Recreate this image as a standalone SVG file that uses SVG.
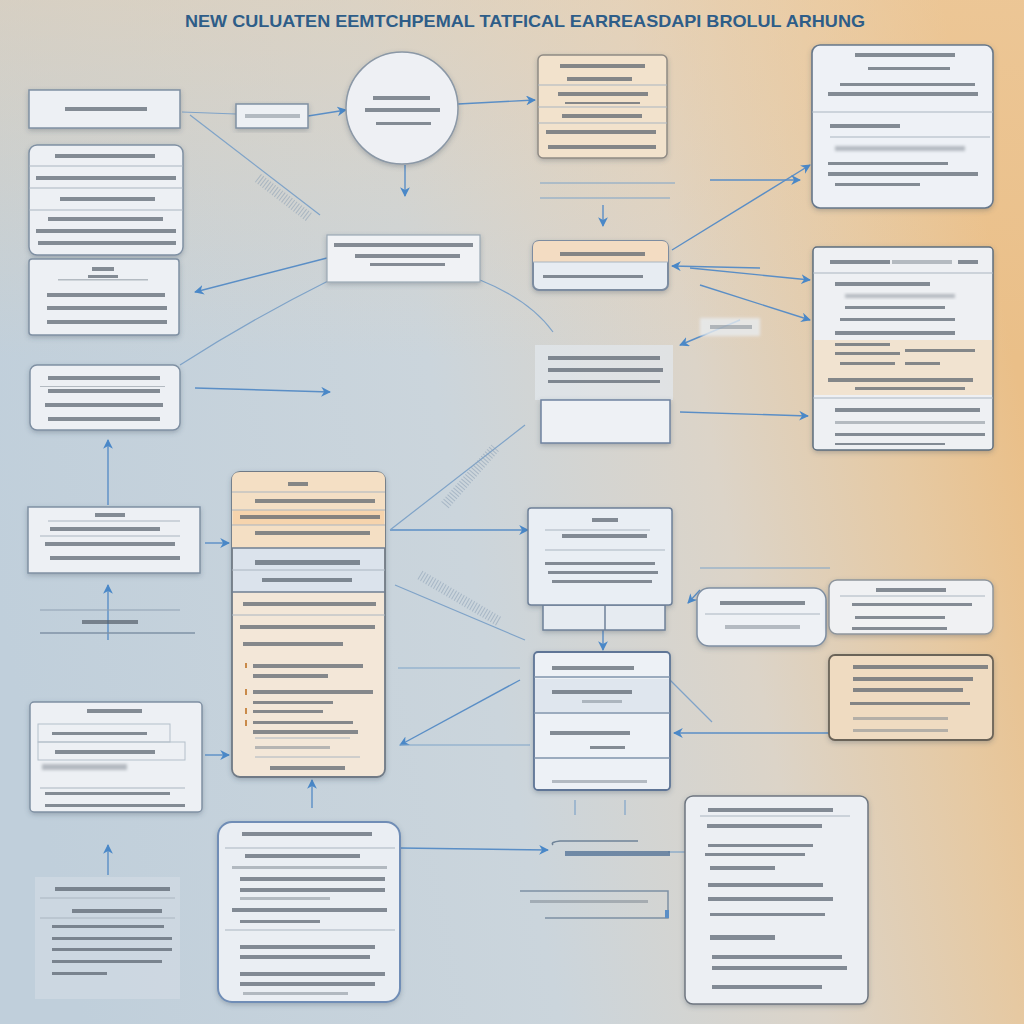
<svg xmlns="http://www.w3.org/2000/svg" width="1024" height="1024" viewBox="0 0 1024 1024">
<defs>
<linearGradient id="bg" x1="0" y1="0.6" x2="1" y2="0.4">
<stop offset="0" stop-color="#c0cfdb"/>
<stop offset="0.45" stop-color="#cbd5dc"/>
<stop offset="0.7" stop-color="#dcd4c8"/>
<stop offset="0.88" stop-color="#e6c9a2"/>
<stop offset="1" stop-color="#eabf88"/>
</linearGradient>
<linearGradient id="bg2" x1="0" y1="0" x2="0" y2="1">
<stop offset="0" stop-color="#efcfa6" stop-opacity="0.45"/>
<stop offset="0.35" stop-color="#efcfa6" stop-opacity="0"/>
</linearGradient>
<filter id="sh" x="-10%" y="-10%" width="120%" height="130%">
<feDropShadow dx="0" dy="2" stdDeviation="2.5" flood-color="#3a4a5c" flood-opacity="0.3"/>
</filter>
<filter id="blur" x="-20%" y="-50%" width="140%" height="200%">
<feGaussianBlur stdDeviation="1.5"/>
</filter>
<marker id="ah" viewBox="0 0 10 10" refX="9" refY="5" markerWidth="7" markerHeight="7" orient="auto-start-reverse">
<path d="M0,0 L10,5 L0,10 L3,5 Z" fill="#4a88c8"/>
</marker>
<style>
.box{fill:#edf0f4;stroke:#7f90a3;stroke-width:1.5}
.t{fill:#56606b;opacity:0.7}
.tl{fill:#7a838d;opacity:0.5}
.sep{stroke:#aab5c0;stroke-width:1}
.c{fill:none;stroke:#5a8ec6;stroke-width:1.4;marker-end:url(#ah)}
.cn{fill:none;stroke:#7fa3c8;stroke-width:1.2}
.rib{fill:none;stroke:#8a9fb5;stroke-width:10;stroke-dasharray:1 2;opacity:0.55}
.title{font-family:"Liberation Sans",Arial,sans-serif;font-weight:bold;font-size:17px;fill:#2e5d88}
</style>
</defs>
<rect width="1024" height="1024" fill="url(#bg)"/>
<rect width="1024" height="1024" fill="url(#bg2)"/>

<text class="title" x="185" y="27" textLength="680" lengthAdjust="spacingAndGlyphs">NEW CULUATEN EEMTCHPEMAL TATFICAL EARREASDAPI BROLUL ARHUNG</text>

<g id="connectors">
<path class="cn" d="M182,112 L236,114"/>
<path class="cn" d="M190,115 L320,215"/>
<path class="rib" d="M258,178 L310,218"/>
<path class="c" d="M308,116 L346,110"/>
<path class="c" d="M458,104 L535,100"/>
<path class="c" d="M405,165 L405,196"/>
<path class="cn" d="M540,183 L675,183"/>
<path class="cn" d="M540,198 L670,198"/>
<path class="c" d="M603,205 L603,226"/>
<path class="c" d="M672,250 L810,165"/>
<path class="c" d="M710,180 L800,180"/>
<path class="c" d="M760,268 L672,266"/>
<path class="c" d="M690,268 L810,280"/>
<path class="c" d="M700,285 L810,320"/>
<path class="c" d="M327,258 L195,292"/>
<path class="cn" d="M330,280 Q250,320 180,365"/>
<path class="cn" d="M480,280 Q530,300 553,332"/>
<path class="c" d="M195,388 L330,392"/>
<path class="c" d="M680,412 L808,416"/>
<path class="c" d="M740,320 L680,345"/>
<path class="c" d="M108,505 L108,440"/>
<path class="c" d="M205,543 L229,543"/>
<path class="c" d="M390,530 L528,530"/>
<path class="cn" d="M390,530 L525,425"/>
<path class="rib" d="M445,505 L495,448"/>
<path class="cn" d="M395,585 L525,640"/>
<path class="rib" d="M420,575 L500,622"/>
<path class="cn" d="M398,668 L520,668"/>
<path class="c" d="M520,680 L400,745"/>
<path class="cn" d="M400,745 L530,745"/>
<path class="c" d="M603,630 L603,650"/>
<path class="c" d="M700,590 L688,603"/>
<path class="cn" d="M700,568 L830,568"/>
<path class="c" d="M829,733 L674,733"/>
<path class="cn" d="M670,680 L712,722"/>
<path class="c" d="M205,755 L229,755"/>
<path class="c" d="M108,875 L108,845"/>
<path class="c" d="M108,640 L108,585"/>
<path class="c" d="M312,808 L312,780"/>
<path class="c" d="M400,848 L548,850"/>
<path class="cn" d="M575,800 L575,815"/>
<path class="cn" d="M625,800 L625,815"/>
<path class="cn" d="M668,852 L685,852"/>
</g>

<g id="n1" filter="url(#sh)">
<rect class="box" x="29" y="90" width="151" height="38"/>
<rect class="t" x="65" y="107" width="82" height="4"/>
</g>

<g id="n2" filter="url(#sh)">
<rect class="box" x="29" y="145" width="154" height="110" rx="8"/>
<line class="sep" x1="29" y1="166" x2="183" y2="166"/>
<line class="sep" x1="29" y1="188" x2="183" y2="188"/>
<line class="sep" x1="29" y1="210" x2="183" y2="210"/>
<rect class="t" x="55" y="154" width="100" height="4"/>
<rect class="t" x="36" y="176" width="140" height="4"/>
<rect class="t" x="60" y="197" width="95" height="4"/>
<rect class="t" x="48" y="217" width="115" height="4"/>
<rect class="t" x="36" y="229" width="140" height="4"/>
<rect class="t" x="38" y="241" width="138" height="4"/>
</g>

<g id="n3" filter="url(#sh)">
<rect class="box" x="29" y="259" width="150" height="76" rx="3"/>
<rect class="t" x="92" y="267" width="22" height="4"/>
<rect class="tl" x="58" y="279" width="90" height="1.5"/>
<rect class="t" x="88" y="275" width="30" height="3"/>
<rect class="t" x="47" y="293" width="118" height="4"/>
<rect class="t" x="47" y="306" width="120" height="4"/>
<rect class="t" x="47" y="320" width="120" height="4"/>
</g>

<g id="n4" filter="url(#sh)">
<rect class="box" x="30" y="365" width="150" height="65" rx="7"/>
<rect class="t" x="48" y="376" width="112" height="4"/>
<rect class="tl" x="40" y="386" width="125" height="1"/>
<rect class="t" x="48" y="389" width="112" height="4"/>
<rect class="t" x="45" y="403" width="118" height="4"/>
<rect class="t" x="48" y="417" width="112" height="4"/>
</g>

<g id="n5" filter="url(#sh)">
<rect class="box" x="28" y="507" width="172" height="66"/>
<rect class="t" x="95" y="513" width="30" height="4"/>
<line class="sep" x1="48" y1="521" x2="180" y2="521"/>
<rect class="t" x="50" y="527" width="110" height="4"/>
<line class="sep" x1="40" y1="536" x2="180" y2="536"/>
<rect class="t" x="45" y="542" width="130" height="4"/>
<rect class="t" x="50" y="556" width="130" height="4"/>
</g>

<g id="n6">
<line class="sep" x1="40" y1="610" x2="180" y2="610" style="stroke:#8fa0b2"/>
<line class="sep" x1="40" y1="633" x2="195" y2="633" style="stroke:#7f92a6;stroke-width:1.5"/>
<rect class="t" x="82" y="620" width="56" height="4"/>
</g>

<g id="n7" filter="url(#sh)">
<rect class="box" x="30" y="702" width="172" height="110" rx="4"/>
<rect class="t" x="87" y="709" width="55" height="4"/>
<rect x="38" y="724" width="132" height="18" fill="none" stroke="#b4bfca"/>
<rect x="38" y="742" width="147" height="18" fill="none" stroke="#b4bfca"/>
<rect class="t" x="52" y="732" width="95" height="3"/>
<rect class="t" x="55" y="750" width="100" height="4"/>
<rect class="tl" x="42" y="764" width="85" height="6" filter="url(#blur)"/>
<line class="sep" x1="40" y1="788" x2="185" y2="788"/>
<rect class="t" x="45" y="792" width="125" height="3"/>
<rect class="t" x="45" y="804" width="140" height="3"/>
</g>

<g id="n8">
<rect x="35" y="877" width="145" height="122" fill="#d3dce4" opacity="0.6"/>
<rect class="t" x="55" y="887" width="115" height="4"/>
<line class="sep" x1="40" y1="898" x2="175" y2="898"/>
<rect class="t" x="72" y="909" width="90" height="4"/>
<line class="sep" x1="40" y1="918" x2="175" y2="918"/>
<rect class="t" x="52" y="925" width="112" height="3"/>
<rect class="t" x="52" y="937" width="120" height="3"/>
<rect class="t" x="52" y="948" width="120" height="3"/>
<rect class="t" x="52" y="960" width="110" height="3"/>
<rect class="t" x="52" y="972" width="55" height="3"/>
</g>

<g id="n9" filter="url(#sh)">
<rect class="box" x="236" y="104" width="72" height="24"/>
<rect class="tl" x="245" y="114" width="55" height="4"/>
</g>

<g id="n10" filter="url(#sh)">
<circle cx="402" cy="108" r="56" fill="#eef0f4" stroke="#8b98a6" stroke-width="1.5"/>
<rect class="t" x="373" y="96" width="57" height="4"/>
<rect class="t" x="365" y="108" width="75" height="4"/>
<rect class="t" x="376" y="122" width="55" height="3"/>
</g>

<g id="n11" filter="url(#sh)">
<rect x="538" y="55" width="129" height="103" rx="5" fill="#f2e2cc" stroke="#8f8a84" stroke-width="1.5"/>
<line class="sep" x1="538" y1="85" x2="667" y2="85"/>
<line class="sep" x1="538" y1="107" x2="667" y2="107"/>
<line class="sep" x1="538" y1="123" x2="667" y2="123"/>
<rect class="t" x="560" y="64" width="85" height="4"/>
<rect class="t" x="567" y="77" width="65" height="4"/>
<rect class="t" x="558" y="92" width="90" height="4"/>
<rect class="t" x="565" y="102" width="75" height="2"/>
<rect class="t" x="562" y="114" width="80" height="4"/>
<rect class="t" x="546" y="130" width="110" height="4"/>
<rect class="t" x="548" y="145" width="108" height="4"/>
</g>

<g id="n12" filter="url(#sh)">
<rect x="812" y="45" width="181" height="163" rx="8" fill="#eef1f6" stroke="#66778a" stroke-width="1.6"/>
<line class="sep" x1="812" y1="112" x2="993" y2="112"/>
<line class="sep" x1="830" y1="137" x2="990" y2="137"/>
<rect class="t" x="855" y="53" width="100" height="4"/>
<rect class="t" x="868" y="67" width="82" height="3"/>
<rect class="t" x="840" y="83" width="135" height="3"/>
<rect class="t" x="828" y="92" width="150" height="4"/>
<rect class="t" x="830" y="124" width="70" height="4"/>
<rect class="tl" x="835" y="146" width="130" height="5" filter="url(#blur)"/>
<rect class="t" x="828" y="162" width="120" height="3"/>
<rect class="t" x="828" y="172" width="150" height="4"/>
<rect class="t" x="835" y="183" width="85" height="3"/>
</g>

<g id="n13" filter="url(#sh)">
<rect x="327" y="235" width="153" height="47" fill="#f0f2f5" stroke="#9aa8b5" stroke-width="1.2"/>
<rect class="t" x="334" y="243" width="139" height="4"/>
<rect class="t" x="355" y="254" width="105" height="4"/>
<rect class="t" x="370" y="263" width="75" height="3"/>
</g>

<g id="n14" filter="url(#sh)">
<rect x="533" y="241" width="135" height="49" rx="6" fill="#e7ecf2" stroke="#7d8ca0" stroke-width="2"/>
<path d="M539,241 H662 Q668,241 668,247 V262 H533 V247 Q533,241 539,241 Z" fill="#f3dcc2"/>
<line class="sep" x1="533" y1="262" x2="668" y2="262"/>
<rect class="t" x="560" y="252" width="85" height="4"/>
<rect class="t" x="543" y="275" width="100" height="3"/>
</g>

<g id="n15" filter="url(#sh)">
<rect x="813" y="247" width="180" height="203" rx="4" fill="#eef0f3" stroke="#5e6d7d" stroke-width="1.5"/>
<rect x="814" y="340" width="178" height="55" fill="#f1e3d0"/>
<line class="sep" x1="813" y1="273" x2="993" y2="273"/>
<line class="sep" x1="813" y1="398" x2="993" y2="398"/>
<rect class="t" x="830" y="260" width="60" height="4"/>
<rect class="tl" x="892" y="260" width="60" height="4"/>
<rect class="t" x="958" y="260" width="20" height="4"/>
<rect class="t" x="835" y="282" width="95" height="4"/>
<rect class="tl" x="845" y="294" width="110" height="4" filter="url(#blur)"/>
<rect class="t" x="845" y="306" width="100" height="3"/>
<rect class="t" x="840" y="318" width="115" height="3"/>
<rect class="t" x="835" y="331" width="120" height="4"/>
<rect class="t" x="835" y="343" width="55" height="3"/>
<rect class="t" x="835" y="352" width="65" height="3"/>
<rect class="t" x="905" y="349" width="70" height="3"/>
<rect class="t" x="840" y="362" width="55" height="3"/>
<rect class="t" x="905" y="362" width="35" height="3"/>
<rect class="t" x="828" y="378" width="145" height="4"/>
<rect class="t" x="855" y="387" width="110" height="3"/>
<rect class="t" x="835" y="408" width="145" height="4"/>
<rect class="tl" x="835" y="421" width="150" height="3"/>
<rect class="t" x="835" y="433" width="150" height="3"/>
<rect class="t" x="835" y="443" width="110" height="2"/>
</g>

<g id="n16">
<rect x="535" y="345" width="138" height="55" fill="#e2e8ee" opacity="0.7"/>
<rect class="t" x="548" y="356" width="112" height="4"/>
<rect class="t" x="548" y="368" width="115" height="4"/>
<rect class="t" x="548" y="380" width="112" height="3"/>
<rect x="541" y="400" width="129" height="43" fill="#eef1f5" stroke="#6f83a0" stroke-width="1.5" filter="url(#sh)"/>
</g>

<g id="n17">
<rect x="700" y="318" width="60" height="18" fill="#e8ecef" opacity="0.8" filter="url(#blur)"/>
<rect class="tl" x="710" y="325" width="42" height="4"/>
</g>

<g id="n18" filter="url(#sh)">
<rect x="232" y="472" width="153" height="305" rx="8" fill="#f3e7d8" stroke="#6f7a86" stroke-width="1.8"/>
<path d="M240,472 H377 Q385,472 385,480 V548 H232 V480 Q232,472 240,472 Z" fill="#f4dfc4"/>
<rect x="233" y="510" width="151" height="15" fill="#f6d4ad"/>
<rect x="233" y="548" width="151" height="44" fill="#dbe3ec"/>
<line x1="232" y1="548" x2="385" y2="548" stroke="#6f7f93" stroke-width="1.5"/>
<line x1="232" y1="592" x2="385" y2="592" stroke="#6f7f93" stroke-width="1.5"/>
<line class="sep" x1="232" y1="492" x2="385" y2="492"/>
<line class="sep" x1="232" y1="510" x2="385" y2="510"/>
<line class="sep" x1="232" y1="525" x2="385" y2="525"/>
<line class="sep" x1="232" y1="570" x2="385" y2="570"/>
<line class="sep" x1="232" y1="615" x2="385" y2="615"/>
<line class="sep" x1="255" y1="738" x2="350" y2="738"/>
<line class="sep" x1="255" y1="757" x2="360" y2="757"/>
<rect class="t" x="288" y="482" width="20" height="4"/>
<rect class="t" x="255" y="499" width="120" height="4"/>
<rect class="t" x="240" y="515" width="140" height="4"/>
<rect class="t" x="255" y="531" width="115" height="4"/>
<rect class="t" x="255" y="560" width="105" height="5"/>
<rect class="t" x="262" y="578" width="90" height="4"/>
<rect class="t" x="243" y="602" width="133" height="4"/>
<rect class="t" x="240" y="625" width="135" height="4"/>
<rect class="t" x="243" y="642" width="100" height="4"/>
<rect x="245" y="663" width="2" height="5" fill="#c98a4a"/>
<rect class="t" x="253" y="664" width="110" height="4"/>
<rect class="t" x="253" y="674" width="75" height="4"/>
<rect x="245" y="689" width="2" height="6" fill="#c98a4a"/>
<rect class="t" x="253" y="690" width="120" height="4"/>
<rect class="t" x="253" y="701" width="80" height="3"/>
<rect x="245" y="708" width="2" height="6" fill="#c98a4a"/>
<rect class="t" x="253" y="710" width="70" height="3"/>
<rect x="245" y="720" width="2" height="6" fill="#c98a4a"/>
<rect class="t" x="253" y="721" width="100" height="3"/>
<rect class="t" x="253" y="730" width="105" height="4"/>
<rect class="tl" x="255" y="746" width="75" height="3"/>
<rect class="t" x="270" y="766" width="75" height="4"/>
</g>

<g id="n19" filter="url(#sh)">
<rect x="543" y="605" width="122" height="25" fill="#e6ebf1" stroke="#6e8098" stroke-width="1.5"/>
<line x1="605" y1="605" x2="605" y2="630" stroke="#6e8098" stroke-width="1.5"/>
<rect x="528" y="508" width="144" height="97" rx="3" fill="#e9eef4" stroke="#6e8098" stroke-width="1.5"/>
<rect class="t" x="592" y="518" width="26" height="4"/>
<line class="sep" x1="545" y1="530" x2="650" y2="530"/>
<rect class="t" x="562" y="534" width="85" height="4"/>
<line class="sep" x1="545" y1="550" x2="665" y2="550"/>
<rect class="t" x="545" y="562" width="110" height="3"/>
<rect class="t" x="548" y="571" width="110" height="3"/>
<rect class="t" x="552" y="580" width="100" height="3"/>
</g>

<g id="n20" filter="url(#sh)">
<rect x="697" y="588" width="129" height="58" rx="12" fill="#eef1f5" stroke="#7f8fa2" stroke-width="1.5"/>
<rect class="t" x="720" y="601" width="85" height="4"/>
<line class="sep" x1="705" y1="614" x2="820" y2="614"/>
<rect class="tl" x="725" y="625" width="75" height="4"/>
</g>

<g id="n21" filter="url(#sh)">
<rect x="829" y="580" width="164" height="54" rx="8" fill="#f0f1f3" stroke="#8e959c" stroke-width="1.5"/>
<rect class="t" x="876" y="588" width="70" height="4"/>
<line class="sep" x1="840" y1="596" x2="985" y2="596"/>
<rect class="t" x="852" y="603" width="120" height="3"/>
<rect class="t" x="855" y="616" width="90" height="3"/>
<rect class="t" x="852" y="627" width="95" height="3"/>
</g>

<g id="n22" filter="url(#sh)">
<rect x="534" y="652" width="136" height="138" rx="4" fill="#edf1f6" stroke="#5e7596" stroke-width="1.8"/>
<rect x="535" y="679" width="134" height="33" fill="#dfe6ee"/>
<line x1="534" y1="677" x2="670" y2="677" stroke="#7f93ab" stroke-width="1.5"/>
<line x1="534" y1="713" x2="670" y2="713" stroke="#7f93ab" stroke-width="1.5"/>
<line x1="534" y1="758" x2="670" y2="758" stroke="#7f93ab" stroke-width="1.5"/>
<rect class="t" x="552" y="666" width="82" height="4"/>
<rect class="t" x="552" y="690" width="80" height="4"/>
<rect class="tl" x="582" y="700" width="40" height="3"/>
<rect class="t" x="550" y="731" width="80" height="4"/>
<rect class="t" x="590" y="746" width="35" height="3"/>
<rect class="tl" x="552" y="780" width="95" height="3"/>
</g>

<g id="n23" filter="url(#sh)">
<rect x="829" y="655" width="164" height="85" rx="6" fill="#efdbc1" stroke="#6b6358" stroke-width="1.8"/>
<rect class="t" x="853" y="665" width="135" height="4"/>
<rect class="t" x="853" y="677" width="120" height="4"/>
<rect class="t" x="853" y="688" width="110" height="4"/>
<rect class="t" x="850" y="702" width="120" height="3"/>
<rect class="tl" x="853" y="717" width="95" height="3"/>
<rect class="tl" x="853" y="729" width="95" height="3"/>
</g>

<g id="n24" filter="url(#sh)">
<rect x="218" y="822" width="182" height="180" rx="14" fill="#eaeef3" stroke="#6f8db6" stroke-width="2"/>
<line class="sep" x1="225" y1="848" x2="395" y2="848"/>
<line class="sep" x1="225" y1="930" x2="395" y2="930"/>
<rect class="t" x="242" y="832" width="130" height="4"/>
<rect class="t" x="245" y="854" width="115" height="4"/>
<rect class="tl" x="232" y="866" width="155" height="3"/>
<rect class="t" x="240" y="877" width="145" height="4"/>
<rect class="t" x="240" y="888" width="145" height="4"/>
<rect class="tl" x="240" y="897" width="90" height="3"/>
<rect class="t" x="232" y="908" width="155" height="4"/>
<rect class="t" x="240" y="920" width="80" height="3"/>
<rect class="t" x="240" y="945" width="135" height="4"/>
<rect class="t" x="240" y="955" width="130" height="4"/>
<rect class="t" x="240" y="972" width="145" height="4"/>
<rect class="t" x="240" y="982" width="135" height="4"/>
<rect class="tl" x="243" y="992" width="105" height="3"/>
</g>

<g id="n25">
<path d="M553,845 Q550,842 560,841 H638" fill="none" stroke="#6f8398" stroke-width="1.5"/>
<rect x="565" y="851" width="105" height="5" fill="#4f6f94" opacity="0.75"/>
</g>

<g id="n26">
<path d="M520,891 H668 V918 H545" fill="none" stroke="#7d90a4" stroke-width="1.5"/>
<rect x="665" y="910" width="4" height="8" fill="#5a8ec6"/>
<rect class="tl" x="530" y="900" width="118" height="3"/>
</g>

<g id="n27" filter="url(#sh)">
<rect x="685" y="796" width="183" height="208" rx="8" fill="#eceff3" stroke="#6e7680" stroke-width="1.5"/>
<rect class="t" x="708" y="808" width="125" height="4"/>
<line class="sep" x1="700" y1="816" x2="850" y2="816"/>
<rect class="t" x="707" y="824" width="115" height="4"/>
<rect class="t" x="708" y="844" width="105" height="3"/>
<rect class="t" x="705" y="853" width="100" height="3"/>
<rect class="t" x="710" y="866" width="65" height="4"/>
<rect class="t" x="708" y="883" width="115" height="4"/>
<rect class="t" x="708" y="897" width="125" height="4"/>
<rect class="t" x="710" y="913" width="115" height="3"/>
<rect class="t" x="710" y="935" width="65" height="5"/>
<rect class="t" x="712" y="955" width="130" height="4"/>
<rect class="t" x="712" y="966" width="135" height="4"/>
<rect class="t" x="712" y="985" width="110" height="4"/>
</g>
</svg>
